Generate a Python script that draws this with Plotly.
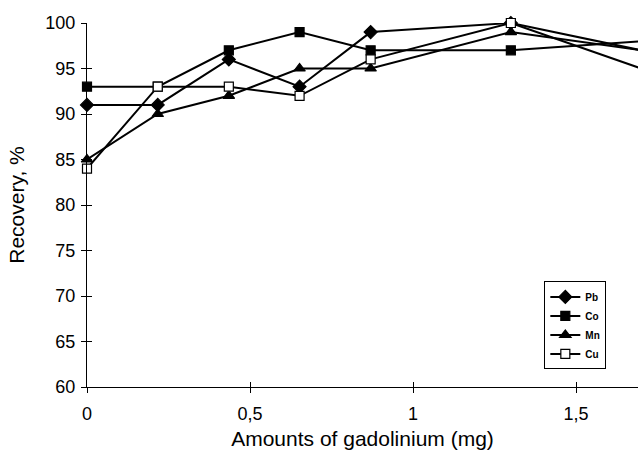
import plotly.graph_objects as go

x_vals = [0, 0.217, 0.435, 0.652, 0.87, 1.3, 1.7]
pb = [91, 91, 96, 93, 99, 100, 97]
co = [93, 93, 97, 99, 97, 97, 98]
mn = [85, 90, 92, 95, 95, 99, 97]
cu = [84, 93, 93, 92, 96, 100, 95]

series = [
    ("Pb", pb, "diamond", "black", 10),
    ("Co", co, "square", "black", 9),
    ("Mn", mn, "triangle-up", "black", 10),
    ("Cu", cu, "square", "white", 9),
]

fig = go.Figure()
for name, vals, sym, fill, size in series:
    fig.add_trace(go.Scatter(
        x=x_vals, y=vals, name=name, mode="lines+markers",
        line=dict(color="black", width=2),
        marker=dict(symbol=sym, size=size, color=fill,
                    line=dict(color="black", width=1.2)),
        cliponaxis=False,
    ))

font_family = "Liberation Sans, Arial, sans-serif"
x_range = [0, 1.69]
y_range = [60, 100]

fig.update_layout(
    width=638, height=450,
    margin=dict(l=87, r=0, t=23, b=63, autoexpand=False),
    plot_bgcolor="white", paper_bgcolor="white",
    separators=", ",
    font=dict(family=font_family, size=18, color="black"),
    showlegend=True,
    legend=dict(
        x=0.83, y=0.29, xanchor="left", yanchor="top",
        bgcolor="white", bordercolor="black", borderwidth=1,
        font=dict(family=font_family, size=10, color="black", weight="bold"),
        itemwidth=30, tracegroupgap=0,
    ),
    xaxis=dict(
        range=x_range, tickvals=[0, 0.5, 1, 1.5], ticktext=["0", "0,5", "1", "1,5"],
        showline=True, linecolor="black", linewidth=1.2,
        ticks="outside", ticklen=5, tickcolor="black", tickwidth=1.2,
        ticklabelstandoff=5,
        showgrid=False, zeroline=False, automargin=False,
        title=dict(text="Amounts of gadolinium (mg)", font=dict(size=21), standoff=10),
        tickfont=dict(size=18),
    ),
    yaxis=dict(
        range=y_range, dtick=5,
        showline=True, linecolor="black", linewidth=1.2,
        ticks="outside", ticklen=5, tickcolor="black", tickwidth=1.2,
        ticklabelstandoff=2,
        showgrid=False, zeroline=False, automargin=False,
        title=dict(text="Recovery, %", font=dict(size=21), standoff=14),
        tickfont=dict(size=18),
    ),
    xaxis2=dict(range=x_range, overlaying="x", tickvals=[0, 0.5, 1, 1.5],
                showticklabels=False, ticks="inside", ticklen=5, tickcolor="black",
                tickwidth=1.2, showgrid=False, zeroline=False, showline=False),
    yaxis2=dict(range=y_range, overlaying="y", dtick=5, showticklabels=False,
                ticks="inside", ticklen=5, tickcolor="black", tickwidth=1.2,
                showgrid=False, zeroline=False, showline=False),
)
# invisible trace to activate the secondary (inside-tick) axes
fig.add_trace(go.Scatter(x=[None], y=[None], xaxis="x2", yaxis="y2",
                         showlegend=False, hoverinfo="skip"))

fig.write_html("out.html", config={"displayModeBar": False})

# remove the browser's default 8px body margin so the figure sits at the window's corner
with open("out.html", "r", encoding="utf-8") as f:
    html = f.read()
html = html.replace("<head>", "<head><style>html,body{margin:0;padding:0;overflow:hidden;}</style>", 1)
with open("out.html", "w", encoding="utf-8") as f:
    f.write(html)
